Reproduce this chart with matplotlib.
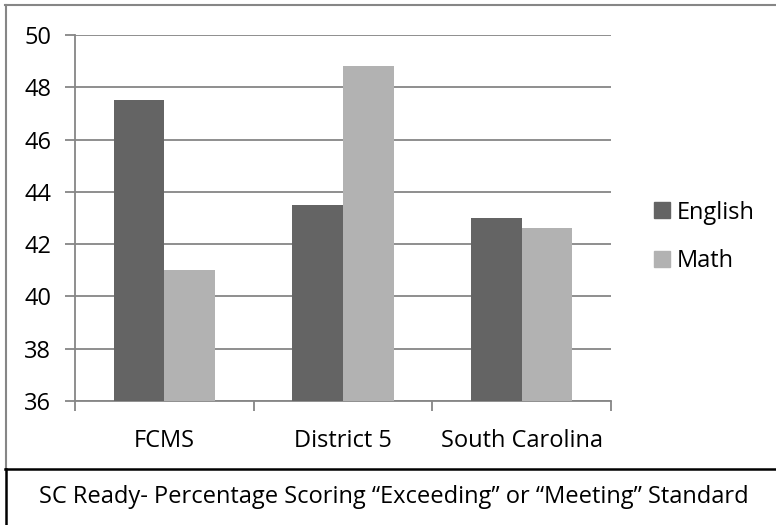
import matplotlib
matplotlib.use("Agg")
import matplotlib.pyplot as plt
import numpy as np
from matplotlib.lines import Line2D
from matplotlib.patches import Patch

categories = ["FCMS", "District 5", "South Carolina"]
english = [47.5, 43.5, 43.0]
math_scores = [41.0, 48.8, 42.6]
series_names = ["English", "Math"]
y_ticks = [36, 38, 40, 42, 44, 46, 48, 50]
caption = "SC Ready- Percentage Scoring \u201cExceeding\u201d or \u201cMeeting\u201d Standard"

plt.rcParams["font.family"] = ["Open Sans", "DejaVu Sans"]

W, H = 776, 525
fig = plt.figure(figsize=(W / 100, H / 100), dpi=100)
FS = 17


def fx(px):
    return px / W


def fy(py):
    return 1 - py / H


# plot area: x 75..611, y 35..401 (pixels)
ax = fig.add_axes([fx(75), fy(401), fx(611) - fx(75), fy(35) - fy(401)])

grid_col = "#868686"
dark = "#646464"
light = "#b2b2b2"

x = np.arange(len(categories))
bw = 0.283
ax.bar(x - bw / 2, english, width=bw, color=dark, zorder=3)
ax.bar(x + bw / 2, math_scores, width=bw, color=light, zorder=3)

ax.set_ylim(36, 50)
ax.set_xlim(-0.5, len(categories) - 0.5)
ax.set_yticks(y_ticks)
ax.yaxis.grid(True, color=grid_col, linewidth=1.3, zorder=0)
ax.set_axisbelow(True)

for s in ["top", "right"]:
    ax.spines[s].set_visible(False)
for s in ["left", "bottom"]:
    ax.spines[s].set_color(grid_col)
    ax.spines[s].set_linewidth(1.3)

ax.tick_params(axis="y", length=7, width=1.3, color=grid_col, labelsize=FS, pad=10)
ax.set_xticks(np.arange(-0.5, len(categories) + 0.5, 1.0))
ax.set_xticklabels([])
ax.set_xticks(x, minor=True)
ax.set_xticklabels(categories, minor=True, fontsize=FS)
ax.tick_params(axis="x", which="major", length=7, width=1.3, color=grid_col)
ax.tick_params(axis="x", which="minor", length=0, pad=20)

handles = [Patch(color=dark), Patch(color=light)]
fig.legend(handles, series_names, loc="center left",
           bbox_to_anchor=(fx(633), fy(237)), frameon=False,
           fontsize=FS, handlelength=0.65, handleheight=0.65,
           handletextpad=0.3, labelspacing=1.05)

# borders
fig.add_artist(Line2D([fx(5), fx(W)], [fy(5), fy(5)], color=grid_col, lw=1.5,
                      transform=fig.transFigure))
fig.add_artist(Line2D([fx(5.5), fx(5.5)], [fy(5), fy(469)], color=grid_col, lw=1.5,
                      transform=fig.transFigure))
fig.add_artist(Line2D([fx(5), fx(W)], [fy(469), fy(469)], color="black", lw=1.8,
                      transform=fig.transFigure))
fig.add_artist(Line2D([fx(6), fx(6)], [fy(469), fy(H)], color="black", lw=1.8,
                      transform=fig.transFigure))

fig.text(fx(394), fy(497), caption, ha="center", va="center", fontsize=FS)

fig.savefig("out.png", dpi=100)
